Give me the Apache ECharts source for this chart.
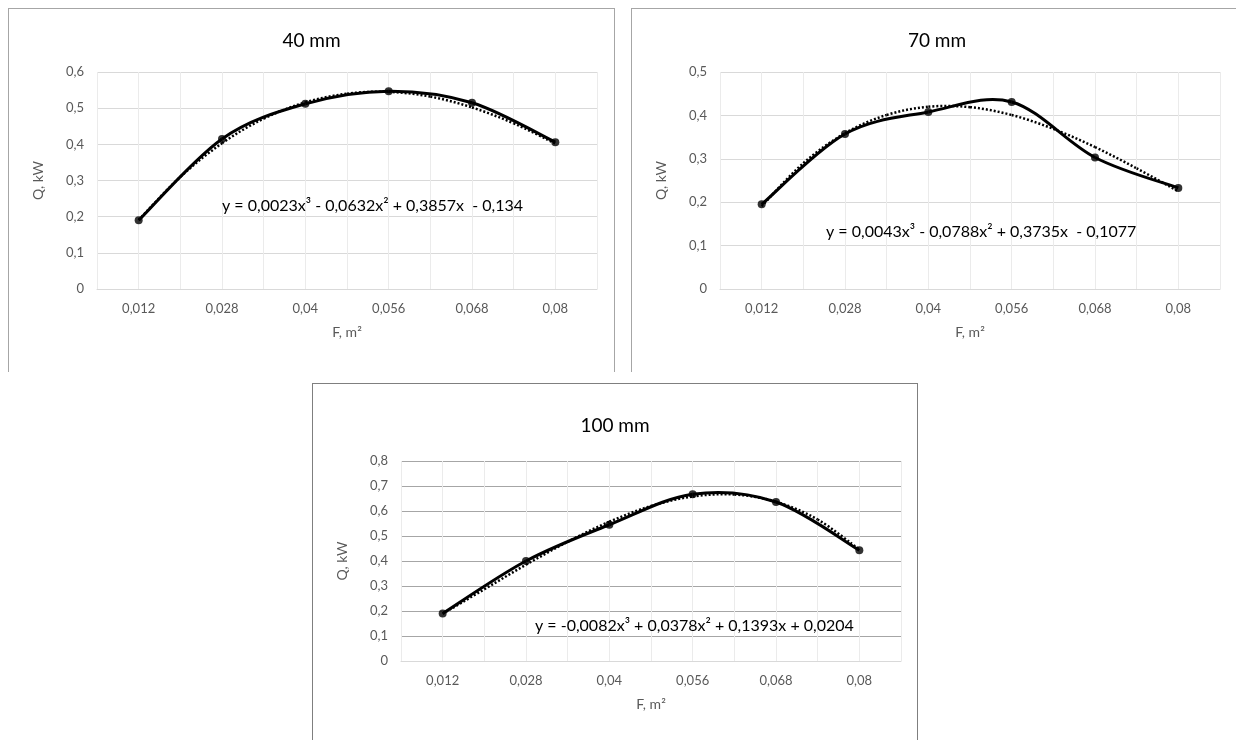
<!DOCTYPE html>
<html>
<head>
<meta charset="utf-8">
<script src="https://cdn.jsdelivr.net/npm/echarts@6/dist/echarts.min.js"></script>
<style>
  html, body { margin: 0; padding: 0; background: #fff; }
  body { width: 1236px; height: 740px; overflow: hidden; position: relative; }
  .panel { position: absolute; box-sizing: border-box; background: #fff; }
  #c40 { left: 8px; top: 8px; width: 607px; height: 364px; border: 1px solid #a6a6a6; border-bottom: none; }
  #c70 { left: 631px; top: 8px; width: 612px; height: 364px; border: 1px solid #a6a6a6; border-bottom: none; }
  #c100 { left: 312px; top: 383px; width: 606px; height: 358px; border: 1px solid #7f7f7f; border-bottom: none; }
</style>
</head>
<body>
<div id="c40" class="panel"></div>
<div id="c70" class="panel"></div>
<div id="c100" class="panel"></div>
<script>
// F, m2 categories (evenly spaced on the axis)
const categories = ['0,012', '0,028', '0,04', '0,056', '0,068', '0,08']

// measured Q, kW
const q40 = [0.19, 0.415, 0.512, 0.547, 0.515, 0.406]
const q70 = [0.195, 0.357, 0.408, 0.431, 0.303, 0.233]
const q100 = [0.19, 0.40, 0.545, 0.667, 0.636, 0.443]

// polynomial trendlines, read at every half category step (1 .. 6)
const trendSteps = [1, 1.5, 2, 2.5, 3, 3.5, 4, 4.5, 5, 5.5, 6]
const trend40 = [0.191, 0.310, 0.403, 0.471, 0.516, 0.540, 0.545, 0.532, 0.502, 0.458, 0.402]
const trend70 = [0.191, 0.290, 0.359, 0.401, 0.420, 0.419, 0.401, 0.369, 0.327, 0.278, 0.225]
const trend100 = [0.189, 0.287, 0.385, 0.477, 0.557, 0.620, 0.658, 0.666, 0.637, 0.566, 0.446]

const eq40 = 'y = 0,0023x³ - 0,0632x² + 0,3857x  - 0,134'
const eq70 = 'y = 0,0043x³ - 0,0788x² + 0,3735x  - 0,1077'
const eq100 = 'y = -0,0082x³ + 0,0378x² + 0,1393x + 0,0204'

const FONT = 'Lato'

const commaNum = (v) => (v === 0 ? '0' : v.toFixed(1).replace('.', ','))

// Excel-like smoothed line: Catmull-Rom segments drawn through the axis scales
const smoothSeries = (points, lineStyle) => ({
  type: 'custom',
  silent: true,
  data: points,
  encode: { x: 0, y: 1 },
  renderItem: (params, api) => {
    const i = params.dataIndex
    const n = points.length
    if (i >= n - 1) return null
    const p0 = api.coord(points[Math.max(i - 1, 0)])
    const p1 = api.coord(points[i])
    const p2 = api.coord(points[i + 1])
    const p3 = api.coord(points[Math.min(i + 2, n - 1)])
    return {
      type: 'bezierCurve',
      shape: {
        x1: p1[0], y1: p1[1],
        x2: p2[0], y2: p2[1],
        cpx1: p1[0] + (p2[0] - p0[0]) / 6,
        cpy1: p1[1] + (p2[1] - p0[1]) / 6,
        cpx2: p2[0] - (p3[0] - p1[0]) / 6,
        cpy2: p2[1] - (p3[1] - p1[1]) / 6
      },
      style: Object.assign({ fill: null, stroke: '#000' }, lineStyle)
    }
  }
})

const buildOption = (cfg) => {
  const qPoints = cfg.q.map((v, i) => [i + 0.5, v])
  const trendPoints = trendSteps.map((s, i) => [s - 0.5, cfg.trend[i]])
  return {
    animation: false,
    backgroundColor: '#fff',
    textStyle: { fontFamily: FONT },
    title: [
      {
        text: cfg.title,
        left: 'center',
        top: cfg.titleTop,
        textStyle: { fontFamily: FONT, fontSize: 19, fontWeight: 'normal', color: '#000' }
      },
      {
        text: cfg.equation,
        left: cfg.eqLeft,
        top: cfg.eqTop,
        textStyle: { fontFamily: FONT, fontSize: 16, fontWeight: 'normal', color: '#000' }
      }
    ],
    grid: { left: 88, top: cfg.gridTop, width: 500, height: cfg.gridHeight },
    xAxis: {
      type: 'value',
      min: 0,
      max: 6,
      interval: 0.5,
      name: 'F, m²',
      nameLocation: 'middle',
      nameGap: 36,
      nameTextStyle: { color: '#595959', fontSize: 14, fontFamily: FONT },
      axisLine: { show: true, lineStyle: { color: '#d9d9d9' } },
      axisTick: { show: false },
      axisLabel: {
        color: '#595959',
        fontSize: 13,
        margin: 13,
        formatter: (v) => {
          const idx = v - 0.5
          return Number.isInteger(idx) ? categories[idx] : ''
        }
      },
      splitLine: { show: true, lineStyle: { color: '#ebebeb' } }
    },
    yAxis: {
      type: 'value',
      min: 0,
      max: cfg.yMax,
      interval: 0.1,
      name: 'Q, kW',
      nameLocation: 'middle',
      nameRotate: 90,
      nameGap: 52,
      nameTextStyle: { color: '#595959', fontSize: 14, fontFamily: FONT },
      axisLine: { show: false },
      axisTick: { show: false },
      axisLabel: { color: '#595959', fontSize: 13, margin: 13, formatter: commaNum },
      splitLine: { show: true, lineStyle: { color: cfg.hLine } }
    },
    series: [
      smoothSeries(trendPoints, { lineWidth: 2.5, lineDash: [2, 2] }),
      smoothSeries(qPoints, { lineWidth: 3 }),
      {
        name: 'Q',
        type: 'scatter',
        symbol: 'circle',
        symbolSize: 8,
        itemStyle: { color: '#000' },
        data: qPoints
      }
    ]
  }
}

const charts = [
  { el: 'c40', title: '40 mm', yMax: 0.6, q: q40, trend: trend40, equation: eq40,
    titleTop: 17, eqLeft: 208, eqTop: 184, gridTop: 63, gridHeight: 217, hLine: '#d9d9d9' },
  { el: 'c70', title: '70 mm', yMax: 0.5, q: q70, trend: trend70, equation: eq70,
    titleTop: 17, eqLeft: 189, eqTop: 210, gridTop: 63, gridHeight: 217, hLine: '#d9d9d9' },
  { el: 'c100', title: '100 mm', yMax: 0.8, q: q100, trend: trend100, equation: eq100,
    titleTop: 27, eqLeft: 217, eqTop: 229, gridTop: 77, gridHeight: 200, hLine: '#a6a6a6' }
]

charts.forEach((cfg) => {
  const chart = echarts.init(document.getElementById(cfg.el))
  chart.setOption(buildOption(cfg))
})
</script>
</body>
</html>
